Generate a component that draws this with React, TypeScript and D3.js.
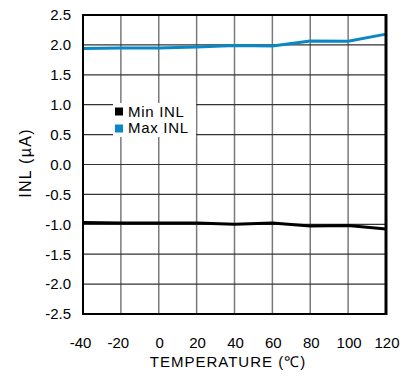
import React from "react";
import * as d3 from "d3";

const temperatures = [-40, -20, 0, 20, 40, 60, 80, 100, 120];
const minInl = [-0.97, -0.98, -0.98, -0.98, -1.0, -0.98, -1.03, -1.02, -1.08];
const maxInl = [1.94, 1.95, 1.95, 1.965, 1.99, 1.98, 2.065, 2.06, 2.18];
const yTicks = [2.5, 2.0, 1.5, 1.0, 0.5, 0.0, -0.5, -1.0, -1.5, -2.0, -2.5];
const xTicks = [-40, -20, 0, 20, 40, 60, 80, 100, 120];

const W = 404;
const H = 377;
const left = 83;
const right = 386;
const top = 15;
const bottom = 314;
const FONT = "'Liberation Sans', Arial, sans-serif";

export default function App() {
  const x = d3.scaleLinear().domain([-40, 120]).range([left, right]);
  const y = d3.scaleLinear().domain([-2.5, 2.5]).range([bottom, top]);

  const line = d3
    .line<number>()
    .x((_, i) => x(temperatures[i]))
    .y((d) => y(d));

  const series = [
    { name: "Min INL", values: minInl, color: "#000000" },
    { name: "Max INL", values: maxInl, color: "#0a87c5" },
  ];

  return (
    <svg
      width={W}
      height={H}
      style={{ position: "absolute", left: 0, top: 0 }}
      fontFamily={FONT}
    >
      <rect width={W} height={H} fill="#fff" />
      {/* grid */}
      {xTicks.slice(1, -1).map((t) => (
        <line key={"vx" + t} x1={x(t)} x2={x(t)} y1={top} y2={bottom} stroke="#7a7a7a" strokeWidth={1.5} />
      ))}
      {yTicks.slice(1, -1).map((t) => (
        <line key={"hy" + t} x1={left} x2={right} y1={y(t)} y2={y(t)} stroke="#333" strokeWidth={1.2} />
      ))}
      {/* legend */}
      <rect x={113} y={103} width={83} height={34} fill="#fff" />
      {series.map((s, i) => (
        <g key={s.name}>
          <rect x={115} y={107.5 + i * 17} width={8} height={8} fill={s.color} />
          <text x={128} y={116.5 + i * 16.5} fontSize={15} letterSpacing={0.7} fill="#000">
            {s.name}
          </text>
        </g>
      ))}
      {/* data */}
      {series.map((s) => (
        <path key={s.name + "l"} d={line(s.values) ?? ""} fill="none" stroke={s.color} strokeWidth={3} />
      ))}
      {/* frame */}
      <rect x={left} y={top} width={right - left} height={bottom - top} fill="none" stroke="#000" strokeWidth={2} />
      <line x1={right} x2={right} y1={top - 1} y2={bottom + 1} stroke="#000" strokeWidth={3} />
      {/* y ticks */}
      {yTicks.map((t) => (
        <text key={"yt" + t} x={71} y={y(t) + 5.3} textAnchor="end" fontSize={15} fill="#000">
          {t.toFixed(1)}
        </text>
      ))}
      {xTicks.map((t) => (
        <text key={"xt" + t} x={x(t) + (t < 0 ? -2.5 : 1)} y={348} textAnchor="middle" fontSize={15} fill="#000">
          {String(t)}
        </text>
      ))}
      <text x={228} y={367} textAnchor="middle" fontSize={15} letterSpacing={1} fill="#000">
        TEMPERATURE (℃)
      </text>
      <text
        transform="translate(31,163) rotate(-90)"
        textAnchor="middle"
        fontSize={16}
        letterSpacing={1.3}
        fill="#000"
      >
        INL (µA)
      </text>
    </svg>
  );
}
